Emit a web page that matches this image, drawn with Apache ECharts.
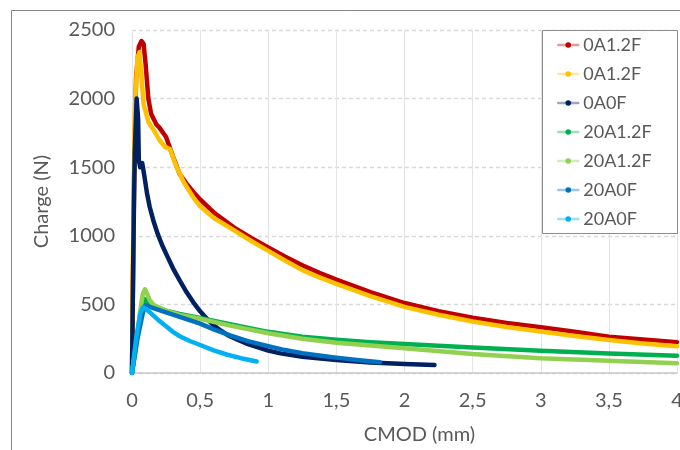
<!DOCTYPE html>
<html>
<head>
<meta charset="utf-8">
<script src="https://cdn.jsdelivr.net/npm/echarts@6/dist/echarts.min.js"></script>
<style>
html,body{margin:0;padding:0;background:#fff;}
#chart{width:680px;height:450px;}
</style>
</head>
<body>
<div id="chart"></div>
<script>
// ---- Data (CMOD in mm, Charge in N) ----
const seriesNames = ['0A1.2F', '0A1.2F', '0A0F', '20A1.2F', '20A1.2F', '20A0F', '20A0F'];
const seriesColors = ['#C00000', '#FFC000', '#002060', '#00B050', '#92D050', '#0070C0', '#00B0F0'];

const cmodA = [0, 0.015, 0.03, 0.05, 0.07, 0.085, 0.1, 0.12, 0.14, 0.18, 0.2, 0.25, 0.3, 0.35, 0.4, 0.45, 0.5, 0.6, 0.75, 0.875, 1.0, 1.125, 1.25, 1.375, 1.5, 1.75, 2.0, 2.25, 2.5, 2.75, 3.0, 3.25, 3.5, 3.75, 4.0];
const chargeA = [0, 1400, 2150, 2380, 2420, 2400, 2250, 2000, 1890, 1810, 1790, 1720, 1580, 1450, 1380, 1320, 1265, 1170, 1060, 985, 915, 848, 785, 730, 680, 590, 510, 450, 403, 365, 333, 300, 265, 245, 225];

const cmodB = [0, 0.005, 0.02, 0.04, 0.055, 0.07, 0.085, 0.12, 0.16, 0.2, 0.24, 0.28, 0.32, 0.38, 0.45, 0.5, 0.6, 0.75, 0.875, 1.0, 1.125, 1.25, 1.375, 1.5, 1.75, 2.0, 2.25, 2.5, 2.75, 3.0, 3.25, 3.5, 3.75, 4.0];
const chargeB = [0, 700, 1900, 2300, 2340, 2150, 1960, 1830, 1770, 1700, 1650, 1630, 1520, 1390, 1280, 1215, 1130, 1040, 962, 890, 818, 750, 697, 650, 560, 482, 425, 375, 335, 302, 270, 240, 215, 195];

const cmodC = [0, 0.01, 0.02, 0.034, 0.045, 0.05, 0.06, 0.075, 0.09, 0.11, 0.13, 0.16, 0.19, 0.22, 0.25, 0.3, 0.35, 0.4, 0.45, 0.5, 0.55, 0.6, 0.65, 0.7, 0.77, 0.84, 0.92, 1.0, 1.09, 1.25, 1.5, 1.75, 2.0, 2.22];
const chargeC = [0, 900, 1600, 2000, 1850, 1550, 1500, 1530, 1440, 1310, 1210, 1100, 1010, 935, 870, 765, 675, 590, 515, 450, 395, 348, 310, 278, 245, 215, 188, 163, 143, 118, 94, 77, 66, 58];

const cmodD = [0, 0.05, 0.09, 0.12, 0.15, 0.25, 0.35, 0.5, 0.72, 1.0, 1.25, 1.5, 1.75, 2.0, 2.5, 3.0, 3.5, 4.0];
const chargeD = [0, 350, 540, 520, 490, 455, 430, 402, 355, 300, 265, 243, 225, 211, 186, 163, 143, 126];

const cmodE = [0, 0.03, 0.06, 0.08, 0.095, 0.11, 0.13, 0.16, 0.25, 0.35, 0.5, 0.72, 1.0, 1.25, 1.5, 2.0, 2.5, 3.0, 3.5, 4.0];
const chargeE = [0, 200, 450, 580, 610, 580, 530, 495, 455, 423, 395, 345, 290, 250, 220, 180, 138, 108, 90, 71];

const cmodF = [0, 0.04, 0.08, 0.1, 0.13, 0.2, 0.3, 0.4, 0.5, 0.6, 0.72, 0.85, 1.0, 1.1, 1.25, 1.4, 1.5, 1.65, 1.82];
const chargeF = [0, 250, 440, 495, 482, 458, 425, 392, 360, 318, 275, 232, 196, 172, 145, 124, 112, 95, 78];

const cmodG = [0, 0.03, 0.06, 0.08, 0.1, 0.15, 0.2, 0.25, 0.3, 0.35, 0.42, 0.5, 0.6, 0.7, 0.8, 0.915];
const chargeG = [0, 250, 430, 478, 470, 425, 380, 340, 300, 268, 235, 204, 165, 133, 108, 84];

const xTicks = [0, 0.5, 1, 1.5, 2, 2.5, 3, 3.5, 4];
const yTicks = [0, 500, 1000, 1500, 2000, 2500];

const allX = [cmodA, cmodB, cmodC, cmodD, cmodE, cmodF, cmodG];
const allY = [chargeA, chargeB, chargeC, chargeD, chargeE, chargeF, chargeG];

const FONT = 'Lato, "Open Sans", sans-serif';
const TXT = '#595959';
// unique internal keys so the legend keeps duplicate labels
const keys = seriesNames.map((n, i) => n + '\u200b'.repeat(i));

const series = seriesNames.map((name, i) => ({
  name: keys[i],
  type: 'line',
  data: allX[i].map((x, k) => [x, allY[i][k]]),
  showSymbol: false,
  symbol: 'circle',
  smooth: false,
  lineStyle: { width: 4.5, color: seriesColors[i], join: 'round', cap: 'round' },
  itemStyle: { color: seriesColors[i] },
  emphasis: { disabled: true },
  animation: false
}));

const chart = echarts.init(document.getElementById('chart'), null, { renderer: 'canvas' });
chart.setOption({
  animation: false,
  backgroundColor: '#ffffff',
  textStyle: { fontFamily: FONT },
  graphic: [
    { type: 'rect', z: 0, shape: { x: 11.5, y: 10.5, width: 900, height: 700 },
      style: { fill: 'none', stroke: '#858585', lineWidth: 1 } },
    { type: 'rect', z: 3, shape: { x: 542.5, y: 30.5, width: 135, height: 203 },
      style: { fill: '#ffffff', stroke: '#8C8C8C', lineWidth: 1 } }
  ],
  legend: {
    orient: 'vertical',
    left: 557,
    top: 36,
    itemWidth: 20,
    itemHeight: 7,
    itemGap: 11,
    padding: 0,
    data: keys.map(k => ({ name: k })),
    formatter: n => n.replace(/\u200b/g, ''),
    textStyle: { fontSize: 18, lineHeight: 18, color: TXT, fontFamily: FONT },
    lineStyle: { width: 2.5, opacity: 0.4 },
    selectedMode: false,
    z: 4
  },
  grid: { left: 132, right: 3, top: 30, bottom: 77, containLabel: false, outerBoundsMode: 'none' },
  xAxis: {
    type: 'value',
    min: 0, max: 4, interval: 0.5,
    axisLine: { show: true, lineStyle: { color: '#C8C8C8', width: 1.5 } },
    axisTick: { show: false },
    splitLine: { show: true, lineStyle: { color: '#E4E4E4', width: 1, type: 'solid' } },
    axisLabel: {
      fontSize: 20, color: TXT, fontFamily: FONT, margin: 18,
      formatter: v => (xTicks.includes(v) ? String(v).replace('.', ',') : '')
    },
    name: 'CMOD (mm)',
    nameLocation: 'middle',
    nameGap: 52,
    nameTextStyle: { fontSize: 20, color: TXT, fontFamily: FONT, padding: [0, 0, 0, 30] }
  },
  yAxis: {
    type: 'value',
    min: 0, max: 2500, interval: 500,
    axisLine: { show: false },
    axisTick: { show: false },
    splitLine: { show: true, lineStyle: { color: '#D9D9D9', width: 1.3, type: [4, 3] } },
    axisLabel: {
      fontSize: 20, color: TXT, fontFamily: FONT, margin: 17,
      formatter: v => (yTicks.includes(v) ? String(v) : '')
    },
    name: 'Charge (N)',
    nameLocation: 'middle',
    nameGap: 80,
    nameTextStyle: { fontSize: 20, color: TXT, fontFamily: FONT }
  },
  series: series
});
</script>
</body>
</html>
